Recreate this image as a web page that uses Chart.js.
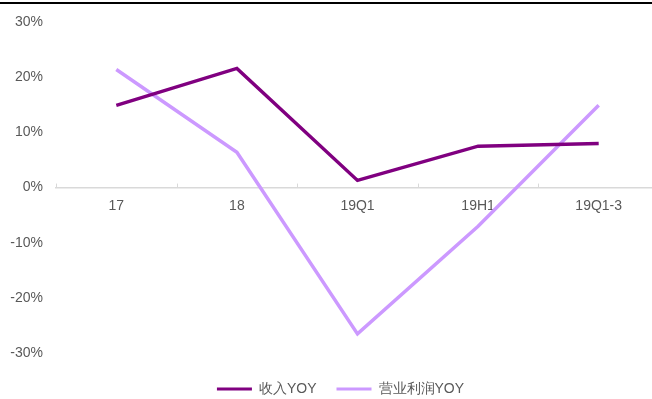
<!DOCTYPE html>
<html>
<head>
<meta charset="utf-8">
<script src="https://cdn.jsdelivr.net/npm/chart.js@4/dist/chart.umd.min.js"></script>
<style>
    html, body { margin: 0; padding: 0; background: #fff; }
    #wrap { position: relative; width: 652px; height: 399px; overflow: hidden; }
    #topline { position: absolute; left: 0; top: 2px; width: 652px; height: 2px; background: #000; }
    canvas { position: absolute; left: 0; top: 0; }
</style>
</head>
<body>
<div id="wrap">
    <canvas id="chart" width="662" height="399"></canvas>
    <div id="topline"></div>
</div>
<script>
// Periods on the x axis
const periods = ['17', '18', '19Q1', '19H1', '19Q1-3'];
// Year-on-year growth, percent
const revenueYoy = [14.9, 21.6, 1.3, 7.5, 8.0];
const opProfitYoy = [21.4, 6.4, -26.5, -7.0, 14.9];
// Labelled y ticks
const yTicks = [-30, -20, -10, 0, 10, 20, 30];

const labelColor = '#595959';
const axisColor = '#d9d9d9';
const fontFamily = 'Liberation Sans, Arial, sans-serif';

// Small tick marks on the zero line, at the category boundaries
const zeroTicks = {
    id: 'zeroTicks',
    afterDatasetsDraw(chart) {
        const ctx = chart.ctx;
        const area = chart.chartArea;
        const y0 = chart.scales.y.getPixelForValue(0);
        const step = (area.right - area.left) / periods.length;
        ctx.save();
        ctx.strokeStyle = axisColor;
        ctx.lineWidth = 1;
        for (let i = 0; i <= periods.length; i++) {
            const x = Math.round(area.left + i * step) + 0.5;
            ctx.beginPath();
            ctx.moveTo(x, y0 - 4);
            ctx.lineTo(x, y0);
            ctx.stroke();
        }
        ctx.restore();
    }
};

// Nudge the legend a little to the right of the canvas centre
const legendShift = {
    id: 'legendShift',
    afterLayout(chart) {
        chart.legend.left += 11;
        chart.legend.right += 11;
    }
};

const ctx = document.getElementById('chart').getContext('2d');
new Chart(ctx, {
    type: 'line',
    data: {
        labels: periods,
        datasets: [
            {
                label: '收入YOY',
                data: revenueYoy,
                borderColor: '#800080',
                backgroundColor: '#800080',
                borderWidth: 3.5,
                pointRadius: 0,
                tension: 0,
            },
            {
                label: '营业利润YOY',
                data: opProfitYoy,
                borderColor: '#cc99ff',
                backgroundColor: '#cc99ff',
                borderWidth: 3.5,
                pointRadius: 0,
                tension: 0,
            },
        ],
    },
    options: {
        responsive: false,
        animation: false,
        layout: {
            padding: { top: 22, right: 3, bottom: -7, left: 0 },
        },
        plugins: {
            tooltip: { enabled: false },
            legend: {
                position: 'bottom',
                labels: {
                    color: labelColor,
                    font: { family: fontFamily, size: 14 },
                    boxWidth: 35,
                    boxHeight: 3,
                    padding: 20,
                    generateLabels(chart) {
                        return chart.data.datasets.map((ds, i) => ({
                            text: ds.label,
                            fillStyle: ds.borderColor,
                            strokeStyle: ds.borderColor,
                            lineWidth: 0,
                            fontColor: labelColor,
                            datasetIndex: i,
                            hidden: false,
                        }));
                    },
                },
            },
        },
        scales: {
            x: {
                position: { y: 0 },
                offset: true,
                grid: { display: false, drawTicks: false },
                border: { display: true, color: axisColor, width: 1.5 },
                ticks: {
                    color: labelColor,
                    font: { family: fontFamily, size: 14 },
                    padding: 10,
                },
            },
            y: {
                min: -31.6,
                max: 30,
                grid: { display: false, drawTicks: false },
                border: { display: false },
                afterFit(scale) {
                    scale.width = 56;
                },
                afterBuildTicks(scale) {
                    scale.ticks = yTicks.map((v) => ({ value: v }));
                },
                ticks: {
                    color: labelColor,
                    font: { family: fontFamily, size: 14 },
                    padding: 13,
                    callback: (v) => v + '%',
                },
            },
        },
    },
    plugins: [zeroTicks, legendShift],
});
</script>
</body>
</html>
